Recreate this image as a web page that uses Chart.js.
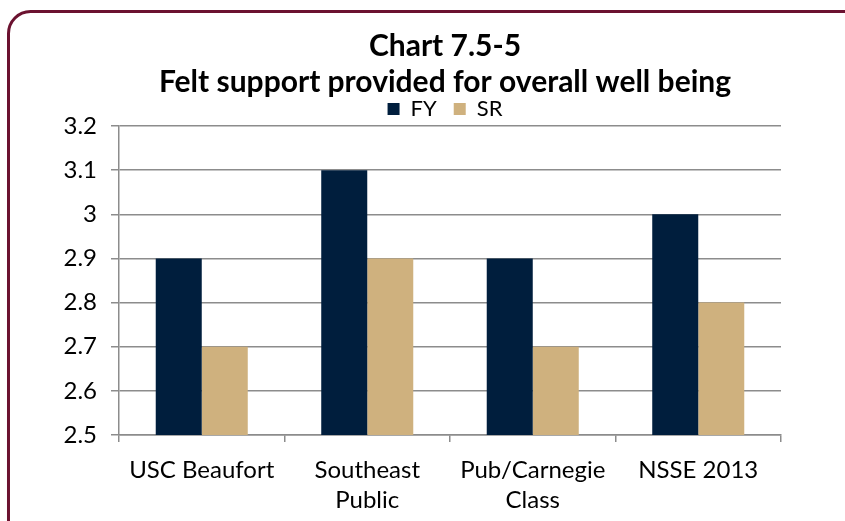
<!DOCTYPE html>
<html>
<head>
<meta charset="utf-8">
<script src="https://cdn.jsdelivr.net/npm/chart.js@4.4.1/dist/chart.umd.min.js"></script>
<style>
  html, body { margin: 0; padding: 0; background: #fff; }
  #wrap { width: 845px; height: 521px; position: relative; }
</style>
</head>
<body>
<div id="wrap"><canvas id="c"></canvas></div>
<script>
const categories = [["USC Beaufort"], ["Southeast", "Public"], ["Pub/Carnegie", "Class"], ["NSSE 2013"]];
const fyValues = [2.9, 3.1, 2.9, 3.0];
const srValues = [2.7, 2.9, 2.7, 2.8];
const yTicks = [2.5, 2.6, 2.7, 2.8, 2.9, 3.0, 3.1, 3.2];

const FONT = "Lato, 'Noto Sans', sans-serif";
const GRID = "#8c8c8c";

// rounded maroon frame drawn behind everything
const framePlugin = {
    id: "frame",
    afterInit(chart) {
        // wider gap between legend items without a tall legend box
        const legend = chart.legend;
        if (legend) {
            const fit = legend.fit;
            legend.fit = function () { fit.call(this); this.height = 45; };
        }
    },
    beforeDraw(chart) {
        const ctx = chart.ctx;
        ctx.save();
        ctx.strokeStyle = "#6b1230";
        ctx.lineWidth = 3;
        ctx.beginPath();
        ctx.roundRect(8.5, 11.5, 880, 560, 22);
        ctx.stroke();
        ctx.restore();
    }
};

new Chart(document.getElementById("c"), {
    type: "bar",
    data: {
        labels: categories,
        datasets: [
            { label: "FY", data: fyValues, backgroundColor: "#001e3d" },
            { label: "SR", data: srValues, backgroundColor: "#cfb17e" }
        ]
    },
    options: {
        responsive: true,
        maintainAspectRatio: false,
        animation: false,
        layout: { padding: { left: 45, right: 0, top: 28, bottom: 0 } },
        datasets: { bar: { categoryPercentage: 0.556, barPercentage: 1.0 } },
        plugins: {
            title: {
                display: true,
                text: ["Chart 7.5-5", "Felt support provided for overall well being"],
                color: "#000",
                font: { family: FONT, size: 30, weight: "bold", lineHeight: 1.2 },
                padding: { top: 0, bottom: -19 }
            },
            legend: {
                display: true,
                labels: {
                    color: "#000",
                    font: { family: FONT, size: 22 },
                    boxWidth: 12,
                    boxHeight: 12,
                    padding: 17
                }
            },
            tooltip: { enabled: false }
        },
        scales: {
            y: {
                min: 2.5,
                max: 3.2,
                afterBuildTicks(axis) { axis.ticks = yTicks.map(v => ({ value: v })); },
                afterFit(axis) { axis.width = 74; },
                ticks: {
                    color: "#000",
                    font: { family: FONT, size: 24 },
                    padding: 14,
                    callback: v => String(Math.round(v * 10) / 10)
                },
                grid: { color: GRID, lineWidth: 1.5, tickLength: 8 },
                border: { color: GRID, width: 1.5 }
            },
            yRight: {
                position: "right",
                display: true,
                afterFit(axis) { axis.width = 64; },
                ticks: { display: false },
                grid: { display: false },
                border: { display: false }
            },
            x: {
                afterFit(axis) { axis.height = 86; },
                ticks: {
                    color: "#000",
                    font: { family: FONT, size: 24, lineHeight: 1.25 },
                    padding: 13,
                    maxRotation: 0
                },
                grid: { color: GRID, lineWidth: 1.5, tickLength: 7, drawOnChartArea: false, offset: true },
                border: { color: GRID, width: 1.5 }
            }
        }
    },
    plugins: [framePlugin]
});
</script>
</body>
</html>
